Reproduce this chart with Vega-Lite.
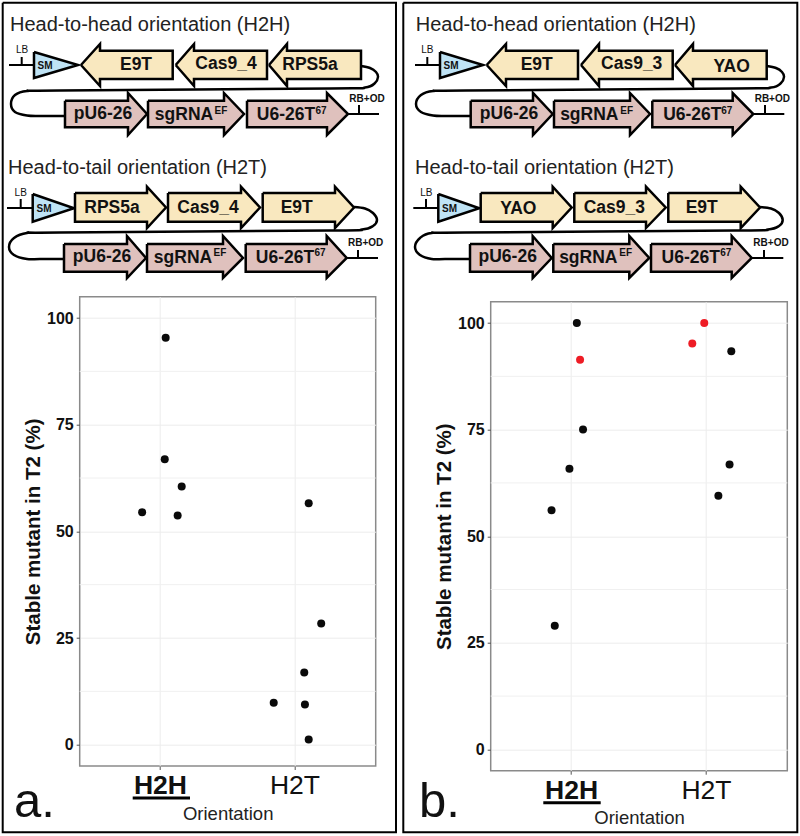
{"$schema":"https://vega.github.io/schema/vega-lite/v6.json","autosize":{"type":"none"},"padding":{"left":79.7,"top":296.7,"right":720.3,"bottom":539.3},"background":"white","bounds":"flush","spacing":115,"config":{"font":"Liberation Sans","view":{"stroke":"#8a8a8a","strokeWidth":1.5,"fill":"white"},"axis":{"labelFont":"Liberation Sans","titleFont":"Liberation Sans"}},
"datasets":{
"points":[
{"panel":"a","orientation":"H2H","jitter":0.039,"stable_mutant":95.4,"status":"normal"},
{"panel":"a","orientation":"H2H","jitter":0.032,"stable_mutant":66.9,"status":"normal"},
{"panel":"a","orientation":"H2H","jitter":0.158,"stable_mutant":60.5,"status":"normal"},
{"panel":"a","orientation":"H2H","jitter":-0.136,"stable_mutant":54.5,"status":"normal"},
{"panel":"a","orientation":"H2H","jitter":0.128,"stable_mutant":53.7,"status":"normal"},
{"panel":"a","orientation":"H2T","jitter":0.102,"stable_mutant":56.6,"status":"normal"},
{"panel":"a","orientation":"H2T","jitter":0.195,"stable_mutant":28.4,"status":"normal"},
{"panel":"a","orientation":"H2T","jitter":0.069,"stable_mutant":16.9,"status":"normal"},
{"panel":"a","orientation":"H2T","jitter":-0.158,"stable_mutant":9.8,"status":"normal"},
{"panel":"a","orientation":"H2T","jitter":0.074,"stable_mutant":9.4,"status":"normal"},
{"panel":"a","orientation":"H2T","jitter":0.102,"stable_mutant":1.2,"status":"normal"},
{"panel":"b","orientation":"H2H","jitter":0.04,"stable_mutant":100,"status":"normal"},
{"panel":"b","orientation":"H2H","jitter":0.064,"stable_mutant":91.4,"status":"highlight"},
{"panel":"b","orientation":"H2H","jitter":0.086,"stable_mutant":75,"status":"normal"},
{"panel":"b","orientation":"H2H","jitter":-0.015,"stable_mutant":65.8,"status":"normal"},
{"panel":"b","orientation":"H2H","jitter":-0.148,"stable_mutant":56.1,"status":"normal"},
{"panel":"b","orientation":"H2H","jitter":-0.124,"stable_mutant":29,"status":"normal"},
{"panel":"b","orientation":"H2T","jitter":-0.015,"stable_mutant":100,"status":"highlight"},
{"panel":"b","orientation":"H2T","jitter":-0.104,"stable_mutant":95.2,"status":"highlight"},
{"panel":"b","orientation":"H2T","jitter":0.186,"stable_mutant":93.4,"status":"normal"},
{"panel":"b","orientation":"H2T","jitter":0.173,"stable_mutant":66.8,"status":"normal"},
{"panel":"b","orientation":"H2T","jitter":0.09,"stable_mutant":59.5,"status":"normal"}
],
"minor":[{"v":12.5},{"v":37.5},{"v":62.5},{"v":87.5}],
"shapesA":[
{"id":"s1","kind":"marker","x":[34,34,78,34],"y":[52,78,65,52]},
{"id":"g1","kind":"cds","x":[81,100,100,172.7,172.7,100,100,81],"y":[65,44,50.7,50.7,79,79,86,65]},
{"id":"g2","kind":"cds","x":[175.7,194,194,267,267,194,194,175.7],"y":[65,44,50.7,50.7,79,79,86,65]},
{"id":"g3","kind":"cds","x":[269,287,287,361,361,287,287,269],"y":[65,44,50.7,50.7,79,79,86,65]},
{"id":"p1","kind":"rna","x":[65,128,128,147,128,128,65,65],"y":[100.7,100.7,93,114,135,127.3,127.3,100.7]},
{"id":"p2","kind":"rna","x":[148,224,224,244,224,224,148,148],"y":[100.7,100.7,93,114,135,127.3,127.3,100.7]},
{"id":"p3","kind":"rna","x":[247,327,327,348,327,327,247,247],"y":[100.7,100.7,93,114,135,127.3,127.3,100.7]},
{"id":"s2","kind":"marker","x":[32.7,32.7,74,32.7],"y":[194,221.7,208.3,194]},
{"id":"g4","kind":"cds","x":[75,147,147,166,147,147,75,75],"y":[193,193,186.7,207.5,228,221.7,221.7,193]},
{"id":"g5","kind":"cds","x":[168,241,241,260,241,241,168,168],"y":[193,193,186.7,207.5,228,221.7,221.7,193]},
{"id":"g6","kind":"cds","x":[262.7,335,335,354,335,335,262.7,262.7],"y":[193,193,186.7,207.5,228,221.7,221.7,193]},
{"id":"p4","kind":"rna","x":[64,127,127,146,127,127,64,64],"y":[244,244,236,258,278,271.7,271.7,244]},
{"id":"p5","kind":"rna","x":[147,223,223,243,223,223,147,147],"y":[244,244,236,258,278,271.7,271.7,244]},
{"id":"p6","kind":"rna","x":[245.7,326.7,326.7,346.7,326.7,326.7,245.7,245.7],"y":[244,244,236,258,278,271.7,271.7,244]}
],
"shapesB":[
{"id":"s1","kind":"marker","x":[440,440,483,440],"y":[52,78,65,52]},
{"id":"g1","kind":"cds","x":[486.7,506,506,578,578,506,506,486.7],"y":[65,44,50.7,50.7,79,79,86,65]},
{"id":"g2","kind":"cds","x":[581,599,599,672.7,672.7,599,599,581],"y":[65,44,50.7,50.7,79,79,86,65]},
{"id":"g3","kind":"cds","x":[675,693,693,766.7,766.7,693,693,675],"y":[65,44,50.7,50.7,79,79,86,65]},
{"id":"p1","kind":"rna","x":[470.7,533,533,552.7,533,533,470.7,470.7],"y":[100.7,100.7,93,114,135,127.3,127.3,100.7]},
{"id":"p2","kind":"rna","x":[554,630,630,650,630,630,554,554],"y":[100.7,100.7,93,114,135,127.3,127.3,100.7]},
{"id":"p3","kind":"rna","x":[652.3,732.7,732.7,753.3,732.7,732.7,652.3,652.3],"y":[100.7,100.7,93,114,135,127.3,127.3,100.7]},
{"id":"s2","kind":"marker","x":[438.3,438.3,479.3,438.3],"y":[194,221.7,208.3,194]},
{"id":"g4","kind":"cds","x":[480.7,552.7,552.7,571.7,552.7,552.7,480.7,480.7],"y":[193,193,186.7,207.5,228,221.7,221.7,193]},
{"id":"g5","kind":"cds","x":[574.3,646,646,665.7,646,646,574.3,574.3],"y":[193,193,186.7,207.5,228,221.7,221.7,193]},
{"id":"g6","kind":"cds","x":[668.3,740.7,740.7,760,740.7,740.7,668.3,668.3],"y":[193,193,186.7,207.5,228,221.7,221.7,193]},
{"id":"p4","kind":"rna","x":[470,532.7,532.7,551.7,532.7,532.7,470,470],"y":[244,244,236,258,278,271.7,271.7,244]},
{"id":"p5","kind":"rna","x":[553.3,629.3,629.3,649.3,629.3,629.3,553.3,553.3],"y":[244,244,236,258,278,271.7,271.7,244]},
{"id":"p6","kind":"rna","x":[651,731.7,731.7,751.7,731.7,731.7,651,651],"y":[244,244,236,258,278,271.7,271.7,244]}
],
"linesA":[
{"id":"frame","x":[2.7,396,396,2.7,2.7],"y":[2.7,2.7,832.3,832.3,2.7]},
{"id":"l1","x":[9,34],"y":[65,65]},{"id":"t1","x":[21.7,21.7],"y":[57,65]},
{"id":"e1","x":[348,379],"y":[114,114]},{"id":"t2","x":[359,359],"y":[105,114]},
{"id":"l2","x":[7,33],"y":[208,208]},{"id":"t3","x":[20.7,20.7],"y":[199,208]},
{"id":"e2","x":[346.7,378],"y":[258,258]},{"id":"t4","x":[358,358],"y":[250,258]}
],
"linesB":[
{"id":"frame","x":[403.3,797.3,797.3,403.3,403.3],"y":[2.7,2.7,832.3,832.3,2.7]},
{"id":"l1","x":[415,440],"y":[65,65]},{"id":"t1","x":[427.3,427.3],"y":[57,65]},
{"id":"e1","x":[753,784.3],"y":[114,114]},{"id":"t2","x":[765,765],"y":[105,114]},
{"id":"l2","x":[413.3,438.3],"y":[208,208]},{"id":"t3","x":[426,426],"y":[199,208]},
{"id":"e2","x":[751.7,783.3],"y":[258,258]},{"id":"t4","x":[764,764],"y":[250,258]}
],
"underA":[{"id":"u","x":[132.7,190],"y":[798,798]}],
"underB":[{"id":"u","x":[543.3,600.7],"y":[802.7,802.7]}],
"curvesA":[
{"id":"c1","x":[361,370,376,378,375,365,330,60,27,15,11,15,27,40,65],"y":[66,68,72,77,83,87.5,88.5,90.5,91,95,104,112,115.5,116,116]},
{"id":"c2","x":[354,365,373,377,373,362,330,60,27,14,9,14,27,40,64],"y":[207,208.5,213,220,226,229.5,230.5,232.5,233,238,247,255,259,259,259]}
],
"curvesB":[
{"id":"c1","x":[766.7,776,782,784,781,771,735,466,433,421,416,421,433,446,471],"y":[66,68,72,77,83,87.5,88.5,90.5,91,95,104,112,115.5,116,116]},
{"id":"c2","x":[760,771,779,782.7,779,768,735,465,431.7,420,415,420,431.7,445,470],"y":[207,208.5,213,220,226,229.5,230.5,232.5,233,238,247,255,259,259,259]}
],
"textA":[
{"role":"title","x":10,"y":31,"label":"Head-to-head orientation (H2H)"},
{"role":"title","x":8,"y":174,"label":"Head-to-tail orientation (H2T)"},
{"role":"letter","x":14,"y":816.7,"label":"a."},
{"role":"thin","x":22,"y":50,"label":"LB"},{"role":"thin","x":20.7,"y":193,"label":"LB"},
{"role":"tag","x":45,"y":65.5,"label":"SM"},{"role":"tag","x":44,"y":208.5,"label":"SM"},
{"role":"tag","x":367,"y":99,"label":"RB+OD"},{"role":"tag","x":365.7,"y":242.7,"label":"RB+OD"},
{"role":"tag","x":221,"y":111,"label":"EF"},{"role":"tag","x":321,"y":111,"label":"67"},
{"role":"tag","x":220,"y":253,"label":"EF"},{"role":"tag","x":320,"y":253,"label":"67"},
{"role":"gene","x":136,"y":65,"label":"E9T"},{"role":"gene","x":226,"y":64,"label":"Cas9_4"},{"role":"gene","x":310,"y":65,"label":"RPS5a"},
{"role":"gene","x":103,"y":114,"label":"pU6-26"},{"role":"gene","x":184,"y":115,"label":"sgRNA"},{"role":"gene","x":286,"y":115,"label":"U6-26T"},
{"role":"gene","x":112,"y":208,"label":"RPS5a"},{"role":"gene","x":208,"y":207.7,"label":"Cas9_4"},{"role":"gene","x":296.7,"y":207.7,"label":"E9T"},
{"role":"gene","x":102,"y":257,"label":"pU6-26"},{"role":"gene","x":183,"y":258,"label":"sgRNA"},{"role":"gene","x":285,"y":258,"label":"U6-26T"}
],
"textB":[
{"role":"title","x":415.7,"y":31,"label":"Head-to-head orientation (H2H)"},
{"role":"title","x":415,"y":174,"label":"Head-to-tail orientation (H2T)"},
{"role":"letter","x":419,"y":816.7,"label":"b."},
{"role":"thin","x":427.3,"y":50,"label":"LB"},{"role":"thin","x":426.3,"y":193,"label":"LB"},
{"role":"tag","x":451,"y":65.5,"label":"SM"},{"role":"tag","x":449.5,"y":208.5,"label":"SM"},
{"role":"tag","x":772.3,"y":99,"label":"RB+OD"},{"role":"tag","x":771,"y":243,"label":"RB+OD"},
{"role":"tag","x":626.7,"y":111,"label":"EF"},{"role":"tag","x":726.7,"y":111,"label":"67"},
{"role":"tag","x":625.7,"y":253,"label":"EF"},{"role":"tag","x":725.7,"y":253,"label":"67"},
{"role":"gene","x":536.7,"y":65,"label":"E9T"},{"role":"gene","x":631.7,"y":64,"label":"Cas9_3"},{"role":"gene","x":731.7,"y":66.7,"label":"YAO"},
{"role":"gene","x":509,"y":114,"label":"pU6-26"},{"role":"gene","x":589.3,"y":115,"label":"sgRNA"},{"role":"gene","x":692.3,"y":115,"label":"U6-26T"},
{"role":"gene","x":518.3,"y":209,"label":"YAO"},{"role":"gene","x":614.3,"y":207.7,"label":"Cas9_3"},{"role":"gene","x":701.7,"y":207.7,"label":"E9T"},
{"role":"gene","x":507.7,"y":257,"label":"pU6-26"},{"role":"gene","x":588.3,"y":258,"label":"sgRNA"},{"role":"gene","x":690.7,"y":258,"label":"U6-26T"}
]
},
"hconcat":[
{"width":296,"height":469.3,"resolve":{"scale":{"x":"independent","y":"independent"},"axis":{"x":"independent","y":"independent"}},
"layer":[
{"encoding":{"x":{"field":"x","type":"quantitative","axis":null,"scale":{"domain":[79.7,375.7],"nice":false,"zero":false}},"y":{"field":"y","type":"quantitative","axis":null,"scale":{"domain":[766,296.7],"nice":false,"zero":false}}},
"layer":[
{"data":{"name":"linesA"},"transform":[{"flatten":["x","y"]},{"window":[{"op":"row_number","as":"o"}],"groupby":["id"]}],"mark":{"type":"line","color":"black","strokeWidth":2,"clip":false,"strokeJoin":"miter"},"encoding":{"detail":{"field":"id"},"order":{"field":"o","type":"quantitative"}}},
{"data":{"name":"underA"},"transform":[{"flatten":["x","y"]},{"window":[{"op":"row_number","as":"o"}],"groupby":["id"]}],"mark":{"type":"line","color":"black","strokeWidth":3,"clip":false},"encoding":{"detail":{"field":"id"},"order":{"field":"o","type":"quantitative"}}},
{"data":{"name":"curvesA"},"transform":[{"flatten":["x","y"]},{"window":[{"op":"row_number","as":"o"}],"groupby":["id"]}],"mark":{"type":"line","color":"black","strokeWidth":2.5,"interpolate":"cardinal","clip":false},"encoding":{"detail":{"field":"id"},"order":{"field":"o","type":"quantitative"}}},
{"data":{"name":"shapesA"},"transform":[{"flatten":["x","y"]},{"window":[{"op":"row_number","as":"o"}],"groupby":["id"]}],"mark":{"type":"line","stroke":"black","strokeWidth":2.5,"strokeJoin":"miter","clip":false},"encoding":{"detail":{"field":"id"},"order":{"field":"o","type":"quantitative"},"fill":{"field":"kind","type":"nominal","legend":null,"scale":{"domain":["marker","cds","rna"],"range":["#bfe3f5","#f9e8bf","#dfc1bd"]}}}},
{"data":{"name":"textA"},"transform":[{"filter":"datum.role==='title'"}],"mark":{"type":"text","align":"left","baseline":"alphabetic","fontSize":20,"color":"#222"},"encoding":{"text":{"field":"label"}}},
{"data":{"name":"textA"},"transform":[{"filter":"datum.role==='letter'"}],"mark":{"type":"text","align":"left","baseline":"alphabetic","fontSize":49,"color":"#111"},"encoding":{"text":{"field":"label"}}},
{"data":{"name":"textA"},"transform":[{"filter":"datum.role==='gene'"}],"mark":{"type":"text","align":"center","baseline":"middle","fontSize":17.5,"fontWeight":"bold","color":"#111"},"encoding":{"text":{"field":"label"}}},
{"data":{"name":"textA"},"transform":[{"filter":"datum.role==='tag'"}],"mark":{"type":"text","align":"center","baseline":"middle","fontSize":10,"fontWeight":"bold","color":"#111"},"encoding":{"text":{"field":"label"}}},
{"data":{"name":"textA"},"transform":[{"filter":"datum.role==='thin'"}],"mark":{"type":"text","align":"center","baseline":"middle","fontSize":10,"color":"#111"},"encoding":{"text":{"field":"label"}}}
]},
{"layer":[
{"data":{"name":"minor"},"mark":{"type":"rule","color":"#f0f0f0","strokeWidth":1},"encoding":{"y":{"field":"v","type":"quantitative","title":"Stable mutant in T2 (%)","scale":{"domain":[-5,105],"nice":false,"zero":false},"axis":{"values":[0,25,50,75,100],"labelFontSize":16,"labelFontWeight":"bold","labelColor":"#111","titleFontSize":20.5,"titleFontWeight":"bold","titleColor":"#111","titlePadding":3,"labelPadding":3,"tickSize":3.5,"tickColor":"#555","domain":false,"grid":true,"gridColor":"#ececec"}}}},
{"data":{"name":"points"},"transform":[{"filter":"datum.panel==='a'"}],"mark":{"type":"circle","size":64,"opacity":1},
"encoding":{
"x":{"field":"orientation","type":"nominal","title":"Orientation","scale":{"domain":["H2H","H2T"],"paddingInner":0,"paddingOuter":0.1},"axis":{"labelAngle":0,"labelFontSize":26.5,"labelColor":"#111","labelFontWeight":{"condition":{"test":"datum.value==='H2H'","value":"bold"},"value":"normal"},"titleFontSize":18.5,"titleFontWeight":"normal","titleColor":"#222","titlePadding":5,"labelPadding":3,"tickSize":3.5,"tickColor":"#555","domain":false,"grid":true,"gridColor":"#ececec"}},
"xOffset":{"field":"jitter","type":"quantitative","scale":{"domain":[-0.5,0.5]}},
"y":{"field":"stable_mutant","type":"quantitative","title":"Stable mutant in T2 (%)","scale":{"domain":[-5,105],"nice":false,"zero":false}},
"color":{"field":"status","type":"nominal","legend":null,"scale":{"domain":["normal","highlight"],"range":["#0a0a0a","#ee1c25"]}}}}
]}
]},
{"bounds":"flush","spacing":0,"vconcat":[
{"width":296.6,"height":5,"view":{"stroke":null,"fill":null},"data":{"values":[{}]},"mark":{"type":"rule","opacity":0},"encoding":{}},
{"width":296.6,"height":469,"resolve":{"scale":{"x":"independent","y":"independent"},"axis":{"x":"independent","y":"independent"}},
"layer":[
{"encoding":{"x":{"field":"x","type":"quantitative","axis":null,"scale":{"domain":[490.7,787.3],"nice":false,"zero":false}},"y":{"field":"y","type":"quantitative","axis":null,"scale":{"domain":[770.7,301.7],"nice":false,"zero":false}}},
"layer":[
{"data":{"name":"linesB"},"transform":[{"flatten":["x","y"]},{"window":[{"op":"row_number","as":"o"}],"groupby":["id"]}],"mark":{"type":"line","color":"black","strokeWidth":2,"clip":false,"strokeJoin":"miter"},"encoding":{"detail":{"field":"id"},"order":{"field":"o","type":"quantitative"}}},
{"data":{"name":"underB"},"transform":[{"flatten":["x","y"]},{"window":[{"op":"row_number","as":"o"}],"groupby":["id"]}],"mark":{"type":"line","color":"black","strokeWidth":3,"clip":false},"encoding":{"detail":{"field":"id"},"order":{"field":"o","type":"quantitative"}}},
{"data":{"name":"curvesB"},"transform":[{"flatten":["x","y"]},{"window":[{"op":"row_number","as":"o"}],"groupby":["id"]}],"mark":{"type":"line","color":"black","strokeWidth":2.5,"interpolate":"cardinal","clip":false},"encoding":{"detail":{"field":"id"},"order":{"field":"o","type":"quantitative"}}},
{"data":{"name":"shapesB"},"transform":[{"flatten":["x","y"]},{"window":[{"op":"row_number","as":"o"}],"groupby":["id"]}],"mark":{"type":"line","stroke":"black","strokeWidth":2.5,"strokeJoin":"miter","clip":false},"encoding":{"detail":{"field":"id"},"order":{"field":"o","type":"quantitative"},"fill":{"field":"kind","type":"nominal","legend":null,"scale":{"domain":["marker","cds","rna"],"range":["#bfe3f5","#f9e8bf","#dfc1bd"]}}}},
{"data":{"name":"textB"},"transform":[{"filter":"datum.role==='title'"}],"mark":{"type":"text","align":"left","baseline":"alphabetic","fontSize":20,"color":"#222"},"encoding":{"text":{"field":"label"}}},
{"data":{"name":"textB"},"transform":[{"filter":"datum.role==='letter'"}],"mark":{"type":"text","align":"left","baseline":"alphabetic","fontSize":49,"color":"#111"},"encoding":{"text":{"field":"label"}}},
{"data":{"name":"textB"},"transform":[{"filter":"datum.role==='gene'"}],"mark":{"type":"text","align":"center","baseline":"middle","fontSize":17.5,"fontWeight":"bold","color":"#111"},"encoding":{"text":{"field":"label"}}},
{"data":{"name":"textB"},"transform":[{"filter":"datum.role==='tag'"}],"mark":{"type":"text","align":"center","baseline":"middle","fontSize":10,"fontWeight":"bold","color":"#111"},"encoding":{"text":{"field":"label"}}},
{"data":{"name":"textB"},"transform":[{"filter":"datum.role==='thin'"}],"mark":{"type":"text","align":"center","baseline":"middle","fontSize":10,"color":"#111"},"encoding":{"text":{"field":"label"}}}
]},
{"layer":[
{"data":{"name":"minor"},"mark":{"type":"rule","color":"#f0f0f0","strokeWidth":1},"encoding":{"y":{"field":"v","type":"quantitative","title":"Stable mutant in T2 (%)","scale":{"domain":[-5,105],"nice":false,"zero":false},"axis":{"values":[0,25,50,75,100],"labelFontSize":16,"labelFontWeight":"bold","labelColor":"#111","titleFontSize":20.5,"titleFontWeight":"bold","titleColor":"#111","titlePadding":3,"labelPadding":3,"tickSize":3.5,"tickColor":"#555","domain":false,"grid":true,"gridColor":"#ececec"}}}},
{"data":{"name":"points"},"transform":[{"filter":"datum.panel==='b'"}],"mark":{"type":"circle","size":64,"opacity":1},
"encoding":{
"x":{"field":"orientation","type":"nominal","title":"Orientation","scale":{"domain":["H2H","H2T"],"paddingInner":0,"paddingOuter":0.1},"axis":{"labelAngle":0,"labelFontSize":26.5,"labelColor":"#111","labelFontWeight":{"condition":{"test":"datum.value==='H2H'","value":"bold"},"value":"normal"},"titleFontSize":18.5,"titleFontWeight":"normal","titleColor":"#222","titlePadding":5,"labelPadding":3,"tickSize":3.5,"tickColor":"#555","domain":false,"grid":true,"gridColor":"#ececec"}},
"xOffset":{"field":"jitter","type":"quantitative","scale":{"domain":[-0.5,0.5]}},
"y":{"field":"stable_mutant","type":"quantitative","title":"Stable mutant in T2 (%)","scale":{"domain":[-5,105],"nice":false,"zero":false}},
"color":{"field":"status","type":"nominal","legend":null,"scale":{"domain":["normal","highlight"],"range":["#0a0a0a","#ee1c25"]}}}}
]}
]}
]}
]}
